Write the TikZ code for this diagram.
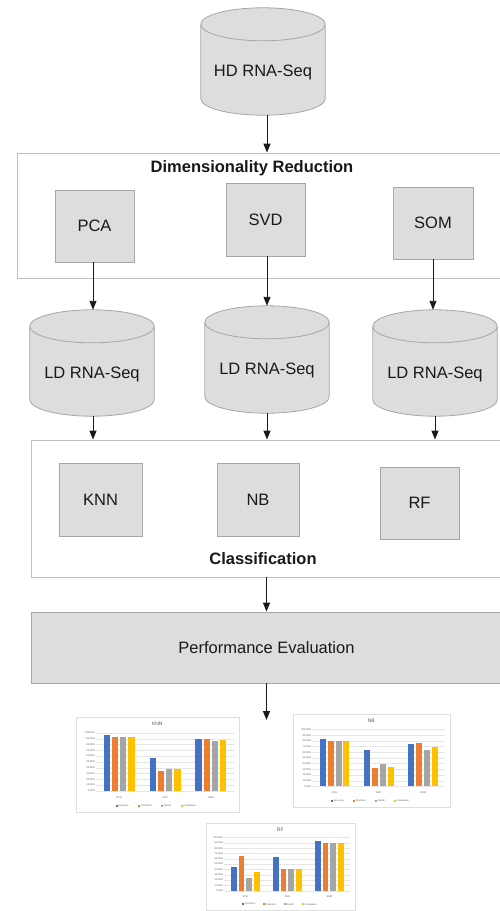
\documentclass[tikz,border=0pt]{standalone}
\usepackage{fontspec}
\setmainfont{Liberation Sans}
\usetikzlibrary{arrows.meta,backgrounds,calc}

\definecolor{boxgray}{HTML}{DDDDDD}
\definecolor{bar1}{HTML}{4472C4}
\definecolor{bar2}{HTML}{ED7D31}
\definecolor{bar3}{HTML}{A5A5A5}
\definecolor{bar4}{HTML}{FFC000}

\tikzset{
  lbl/.style={font=\fontsize{16.5}{19}\selectfont, text=black!90},
  ttl/.style={font=\fontsize{16.5}{19}\selectfont\bfseries, text=black!90, inner sep=0pt},
  algbox/.style={draw=gray!70, fill=boxgray, line width=0.8pt, lbl, inner sep=0pt},
  container/.style={draw=gray!50, fill=white, line width=0.8pt, inner sep=0pt},
  cyltext/.style={lbl, inner sep=0pt, text height=30pt, text depth=0pt},
  cylshape/.style={draw=gray!70, fill=boxgray, line width=0.8pt},
  flow/.style={-{Triangle[length=9pt,width=7pt]}, line width=0.9pt, draw=black!90},
  chartframe/.style={draw=gray!25, fill=white, line width=0.4pt, inner sep=0pt},
  charttitle/.style={font=\fontsize{5}{5.5}\selectfont, text=gray!70!black, inner sep=0pt},
  tick/.style={font=\fontsize{2.5}{2.8}\selectfont, text=gray!70!black, inner sep=0.3pt},
  gridl/.style={draw=gray!20, line width=0.3pt},
}

\newcommand\drawcyl[2]{%
  \begin{pgfonlayer}{background}
  \draw[cylshape] let \p1=(#1.north west), \p2=(#1.south east), \n1={(\x2-\x1)/2} in
    (\x1,\y1-#2) -- (\x1,\y2+#2)
    arc[start angle=180,end angle=360,x radius=\n1,y radius=#2]
    -- (\x2,\y1-#2)
    arc[start angle=0,end angle=180,x radius=\n1,y radius=#2] -- cycle
    (\x1,\y1-#2) arc[start angle=180,end angle=360,x radius=\n1,y radius=#2];
  \end{pgfonlayer}}

\newcommand\perfchart[7]{%
  \node[chartframe, minimum width=#4pt, minimum height=#5pt] (#1) at (#2,#3) {};
  \begin{scope}[shift={(#1.north west)}, x=#4pt, y=-#5pt]
    \node[charttitle] at (0.5,0.075) {#6};
    \foreach \k in {0,10,...,100} {
      \draw[gridl] (0.125,{0.78-0.0061*\k}) -- (0.97,{0.78-0.0061*\k});
      \node[tick, anchor=east] at (0.12,{0.78-0.0061*\k}) {\k.00\%};
    }
    \foreach \a/\b/\c/\d [count=\g] in {#7} {
      \foreach \val [count=\i] in {\a,\b,\c,\d} {
        \pgfmathsetmacro\bx{0.125+(\g-0.5)*0.2817+(\i-2.5)*0.0507}
        \fill[fill=bar\i] (\bx-0.019,0.78) rectangle (\bx+0.019,{0.78-0.0061*\val});
      }
    }
    \foreach \cat [count=\g] in {PCA,SVD,SOM}
      \node[tick] at ({0.125+(\g-0.5)*0.2817},0.85) {\cat};
    \foreach \nm/\px [count=\i] in {Accuracy/0.25,Precision/0.39,Recall/0.53,F-measure/0.65} {
      \fill[fill=bar\i] (\px-0.006,0.925) rectangle (\px+0.006,0.945);
      \node[tick, anchor=west] at (\px+0.008,0.935) {\nm};
    }
  \end{scope}}

\begin{document}
\begin{tikzpicture}[x=1pt,y=-1pt]
\useasboundingbox (0,0) rectangle (499,911);

% input data
\node[cyltext, minimum width=124pt, minimum height=107pt] (hd) at (263,61.5) {HD RNA-Seq};
\drawcyl{hd}{16.5pt}

% dimensionality reduction
\node[container, minimum width=485pt, minimum height=125pt] (dr) at (259.5,215.5) {};
\node[ttl] (drtitle) at (252,168) {Dimensionality Reduction};
\node[algbox, minimum width=79pt, minimum height=72pt] (pca) at (94.5,226) {PCA};
\node[algbox, minimum width=79pt, minimum height=73pt] (svd) at (265.5,219.5) {SVD};
\node[algbox, minimum width=80pt, minimum height=72pt] (som) at (433,223) {SOM};

% reduced data
\node[cyltext, minimum width=124pt, minimum height=106pt] (ld1) at (92,363) {LD RNA-Seq};
\drawcyl{ld1}{16.5pt}
\node[cyltext, minimum width=124pt, minimum height=107pt] (ld2) at (267,359.5) {LD RNA-Seq};
\drawcyl{ld2}{16.5pt}
\node[cyltext, minimum width=124pt, minimum height=106pt] (ld3) at (435,363) {LD RNA-Seq};
\drawcyl{ld3}{16.5pt}

% classification
\node[container, minimum width=471pt, minimum height=137pt] (cl) at (266.5,508.5) {};
\node[algbox, minimum width=83pt, minimum height=73pt] (knn) at (100.5,499.5) {KNN};
\node[algbox, minimum width=82pt, minimum height=73pt] (nb) at (258,499.5) {NB};
\node[algbox, minimum width=79pt, minimum height=72pt] (rf) at (419.5,503) {RF};
\node[ttl] (cltitle) at (263,559) {Classification};

% evaluation
\node[algbox, minimum width=471pt, minimum height=71pt] (pe) at (266.5,647.5) {Performance Evaluation};
\coordinate (res) at (266.5,720);

% connectors
\draw[flow] ([xshift=4pt]hd.south) -- ([xshift=4pt]hd.south |- dr.north);
\draw[flow] ([xshift=-1.5pt]pca.south) -- ([xshift=-1.5pt]pca.south |- ld1.north);
\draw[flow] ([xshift=1.5pt]svd.south) -- ([xshift=1.5pt]svd.south |- ld2.north);
\draw[flow] (som.south) -- (som.south |- ld3.north);
\draw[flow] ([xshift=1pt]ld1.south) -- ([xshift=1pt]ld1.south |- cl.north);
\draw[flow] (ld2.south) -- (ld2.south |- cl.north);
\draw[flow] (ld3.south) -- (ld3.south |- cl.north);
\draw[flow] (cl.south) -- (cl.south |- pe.north);
\draw[flow] (pe.south) -- (res);

% result charts
\perfchart{chknn}{157.5}{764.5}{163}{95}{KNN}{97/93/93/93, 56/35/37/37, 90/89/86/87}
\perfchart{chnb}{371.5}{760.5}{157}{93}{NB}{83/80/80/80, 64/32/39/34, 74/76/64/69}
\perfchart{chrf}{280.5}{866.5}{149}{87}{RF}{44/66/23/35, 63/40/40/40, 93/90/90/90}
\end{tikzpicture}
\end{document}
